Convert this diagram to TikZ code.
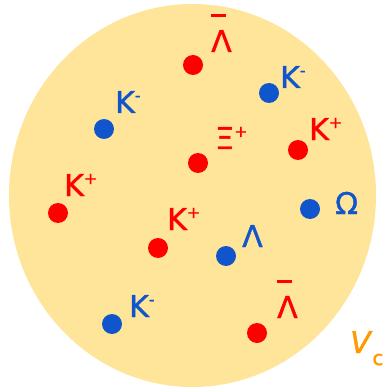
\documentclass[tikz,border=0pt]{standalone}
\usepackage{fontspec}
\setmainfont{DejaVu Sans}
\newfontfamily\tagfont{DejaVu Sans}[FakeBold=1.3]
\usepackage{tikz}
\definecolor{volFill}{RGB}{255,229,153}
\definecolor{posRed}{RGB}{255,0,0}
\definecolor{negBlue}{RGB}{17,85,204}
\definecolor{volOrange}{RGB}{255,153,0}
% charge superscript and anti-lambda bar
\newcommand{\chg}[1]{\raisebox{12pt}{\fontsize{16}{16}\selectfont #1}}
\newcommand{\antiL}{\rlap{\raisebox{35pt}{\rule{15pt}{3pt}}}Λ}

\begin{document}
\begin{tikzpicture}[x=1pt, y=-1pt,
  dot/.style={circle, inner sep=0pt, minimum size=20pt},
  posdot/.style={dot, fill=posRed},
  negdot/.style={dot, fill=negBlue},
  tag/.style={anchor=base west, inner sep=0pt, font=\tagfont\fontsize{30}{30}\selectfont}]
  \useasboundingbox (0,0) rectangle (386,390);
  \fill[volFill] (192.5,195.5) ellipse [x radius=183.5, y radius=191.5];

  \node[posdot] (al1) at (193,65)  {};
  \node[negdot] (km1) at (269,93)  {};
  \node[negdot] (km2) at (104,129) {};
  \node[posdot] (xi)  at (198,163) {};
  \node[posdot] (kp1) at (298,150) {};
  \node[posdot] (kp2) at (58,213)  {};
  \node[negdot] (om)  at (310,209) {};
  \node[posdot] (kp3) at (158,248) {};
  \node[negdot] (la)  at (226,256) {};
  \node[negdot] (km3) at (112,324) {};
  \node[posdot] (al2) at (257,333) {};

  \node[tag, posRed]  (al1t) at (211,52)  {\antiL};
  \node[tag, negBlue] (km1t) at (280,88)  {K\chg{-}};
  \node[tag, negBlue] (km2t) at (115,113) {K\chg{-}};
  \node[tag, posRed]  (xit)  at (215,149) {Ξ\chg{+}};
  \node[tag, posRed]  (kp1t) at (309,140) {K\chg{+}};
  \node[tag, posRed]  (kp2t) at (64,196)  {K\chg{+}};
  \node[tag, negBlue] (omt)  at (335,214) {Ω};
  \node[tag, posRed]  (kp3t) at (167,230) {K\chg{+}};
  \node[tag, negBlue] (lat)  at (242,247) {Λ};
  \node[tag, negBlue] (km3t) at (129,317) {K\chg{-}};
  \node[tag, posRed]  (al2t) at (277,318) {\antiL};

  \node[tag, volOrange] (vc) at (350,353)
    {\textit{V}\raisebox{-12pt}{\fontsize{20}{20}\selectfont c}};
\end{tikzpicture}
\end{document}
